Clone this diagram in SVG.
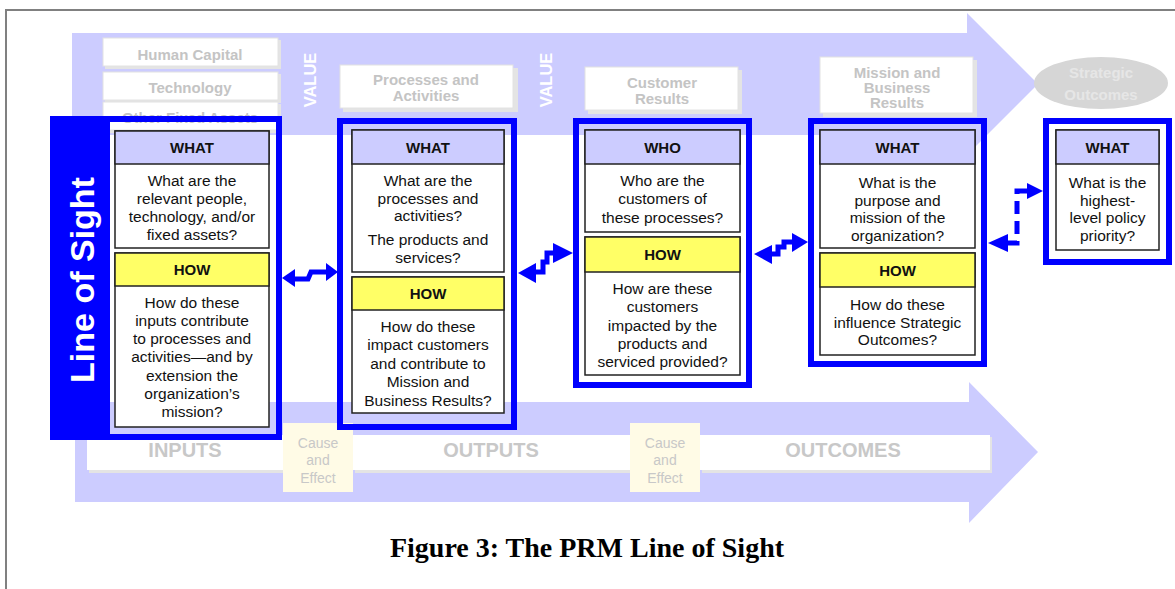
<svg xmlns="http://www.w3.org/2000/svg" width="1175" height="589" viewBox="0 0 1175 589">
<style>
.frame{fill:none;stroke:#0000ff;stroke-width:6}
.box{fill:#ffffff;stroke:#222222;stroke-width:1.5}
.hw{fill:#ccccff;stroke:#222222;stroke-width:1.5}
.hh{fill:#ffff66;stroke:#222222;stroke-width:1.5}
.t{font-family:"Liberation Sans",Arial,sans-serif;font-size:15.5px;text-anchor:middle;fill:#111111}
.hd{font-family:"Liberation Sans",Arial,sans-serif;font-size:15px;font-weight:bold;text-anchor:middle;fill:#111111}
.pale{font-family:"Liberation Sans",Arial,sans-serif;font-size:15px;font-weight:bold;text-anchor:middle;fill:#c4c4c4}
.big{font-family:"Liberation Sans",Arial,sans-serif;font-size:20px;font-weight:bold;text-anchor:middle;fill:#c8c8c8}
.ce{font-family:"Liberation Sans",Arial,sans-serif;font-size:14px;text-anchor:middle;fill:#c8c8c8}
.val{font-family:"Liberation Sans",Arial,sans-serif;font-size:16.5px;font-weight:bold;text-anchor:middle;fill:#ffffff}
.pb{fill:#ffffff;stroke:#e2e2e2;stroke-width:1}
.sh{fill:#e4e4e4}
.conn{fill:none;stroke:#0000ff;stroke-width:5}
.ah{fill:#0000ff}
</style>

<!-- page frame -->
<path d="M6,589 V10 H1175" fill="none" stroke="#808080" stroke-width="2"/>

<g id="background">
  <!-- top arrow -->
  <polygon points="72,33 967,33 967,13 1038,84 967,155 967,135 72,135" fill="#ccccff"/>
  <!-- bottom arrow -->
  <polygon points="75,402 969,402 969,382 1038,452 969,523 969,502 75,502" fill="#ccccff"/>

  <!-- top band pale boxes -->
  <rect class="sh" x="105" y="40" width="176" height="29"/>
  <rect class="pb" x="103" y="38" width="175" height="28"/>
  <text class="pale" x="190" y="60">Human Capital</text>
  <rect class="sh" x="105" y="74" width="176" height="29"/>
  <rect class="pb" x="103" y="72" width="175" height="28"/>
  <text class="pale" x="190" y="93">Technology</text>
  <rect class="sh" x="105" y="104" width="176" height="29"/>
  <rect class="pb" x="103" y="102" width="175" height="28"/>
  <text class="pale" x="190" y="123">Other Fixed Assets</text>
  <text class="val" transform="translate(316,80) rotate(-90)">VALUE</text>

  <rect class="sh" x="343" y="68" width="175" height="44"/>
  <rect class="pb" x="340" y="65" width="173" height="43"/>
  <text class="pale" x="426" y="85">Processes and</text>
  <text class="pale" x="426" y="101">Activities</text>
  <text class="val" transform="translate(552,80) rotate(-90)">VALUE</text>

  <rect class="sh" x="588" y="70" width="154" height="44"/>
  <rect class="pb" x="585" y="67" width="153" height="43"/>
  <text class="pale" x="662" y="88">Customer</text>
  <text class="pale" x="662" y="104">Results</text>

  <rect class="sh" x="823" y="60" width="154" height="57"/>
  <rect class="pb" x="820" y="57" width="153" height="56"/>
  <text class="pale" x="897" y="78">Mission and</text>
  <text class="pale" x="897" y="93">Business</text>
  <text class="pale" x="897" y="108">Results</text>

  <ellipse cx="1101" cy="83" rx="67" ry="26" fill="#d6d6d6"/>
  <text class="pale" x="1101" y="78" fill="#e8e8e8" style="fill:#e6e6e6">Strategic</text>
  <text class="pale" x="1101" y="100" style="fill:#e6e6e6">Outcomes</text>

  <!-- bottom band -->
  <rect class="sh" x="89" y="437" width="196" height="36"/>
  <rect fill="#ffffff" x="87" y="435" width="196" height="35"/>
  <text class="big" x="185" y="457">INPUTS</text>
  <rect class="sh" x="355" y="437" width="277" height="36"/>
  <rect fill="#ffffff" x="353" y="435" width="277" height="35"/>
  <text class="big" x="491" y="457">OUTPUTS</text>
  <rect class="sh" x="702" y="437" width="290" height="36"/>
  <rect fill="#ffffff" x="700" y="435" width="290" height="35"/>
  <text class="big" x="843" y="457">OUTCOMES</text>

  <rect fill="#fffbe6" x="283" y="423" width="70" height="69"/>
  <text class="ce" x="318" y="448">Cause</text>
  <text class="ce" x="318" y="465">and</text>
  <text class="ce" x="318" y="483">Effect</text>
  <rect fill="#fffbe6" x="630" y="423" width="70" height="69"/>
  <text class="ce" x="665" y="448">Cause</text>
  <text class="ce" x="665" y="465">and</text>
  <text class="ce" x="665" y="483">Effect</text>
</g>

<g id="line-of-sight">
  <rect x="50" y="116" width="58" height="324" fill="#0000ff"/>
  <text transform="translate(94,280) rotate(-90)" font-family="'Liberation Sans',Arial,sans-serif" font-size="34" font-weight="bold" fill="#ffffff" text-anchor="middle">Line of Sight</text>
</g>

<g id="node-inputs">
  <rect class="frame" x="107" y="119" width="172" height="318"/>
  <rect class="box" x="115" y="131" width="154" height="117"/>
  <rect class="hw" x="115" y="131" width="154" height="33"/>
  <text class="hd" x="192" y="153">WHAT</text>
  <text class="t" x="192" y="185.5">What are the</text>
  <text class="t" x="192" y="203.5">relevant people,</text>
  <text class="t" x="192" y="222">technology, and/or</text>
  <text class="t" x="192" y="240">fixed assets?</text>
  <rect class="box" x="115" y="253" width="154" height="174"/>
  <rect class="hh" x="115" y="253" width="154" height="33"/>
  <text class="hd" x="192" y="275">HOW</text>
  <text class="t" x="192" y="307.5">How do these</text>
  <text class="t" x="192" y="325.5">inputs contribute</text>
  <text class="t" x="192" y="343.5">to processes and</text>
  <text class="t" x="192" y="362">activities—and by</text>
  <text class="t" x="192" y="380.5">extension the</text>
  <text class="t" x="192" y="398.5">organization’s</text>
  <text class="t" x="192" y="416.5">mission?</text>
</g>

<g id="node-processes">
  <rect class="frame" x="340" y="121" width="174" height="306"/>
  <rect class="box" x="352" y="130" width="152" height="142"/>
  <rect class="hw" x="352" y="130" width="152" height="34"/>
  <text class="hd" x="428" y="153">WHAT</text>
  <text class="t" x="428" y="185.5">What are the</text>
  <text class="t" x="428" y="203.5">processes and</text>
  <text class="t" x="428" y="220.5">activities?</text>
  <text class="t" x="428" y="244.5">The products and</text>
  <text class="t" x="428" y="262.5">services?</text>
  <rect class="box" x="352" y="277" width="152" height="136"/>
  <rect class="hh" x="352" y="277" width="152" height="33"/>
  <text class="hd" x="428" y="299">HOW</text>
  <text class="t" x="428" y="331.5">How do these</text>
  <text class="t" x="428" y="349.5">impact customers</text>
  <text class="t" x="428" y="368.5">and contribute to</text>
  <text class="t" x="428" y="387">Mission and</text>
  <text class="t" x="428" y="405.5">Business Results?</text>
</g>

<g id="node-customers">
  <rect class="frame" x="576" y="121" width="173" height="264"/>
  <rect class="box" x="585" y="130" width="155" height="102"/>
  <rect class="hw" x="585" y="130" width="155" height="34"/>
  <text class="hd" x="662.5" y="153">WHO</text>
  <text class="t" x="662.5" y="185.5">Who are the</text>
  <text class="t" x="662.5" y="203.5">customers of</text>
  <text class="t" x="662.5" y="222.5">these processes?</text>
  <rect class="box" x="585" y="237" width="155" height="138"/>
  <rect class="hh" x="585" y="237" width="155" height="35"/>
  <text class="hd" x="662.5" y="260">HOW</text>
  <text class="t" x="662.5" y="293.5">How are these</text>
  <text class="t" x="662.5" y="311.5">customers</text>
  <text class="t" x="662.5" y="330.5">impacted by the</text>
  <text class="t" x="662.5" y="348.5">products and</text>
  <text class="t" x="662.5" y="366.5">serviced provided?</text>
</g>

<g id="node-mission">
  <rect class="frame" x="811" y="121" width="173" height="243"/>
  <rect class="box" x="820" y="130" width="155" height="118"/>
  <rect class="hw" x="820" y="130" width="155" height="34"/>
  <text class="hd" x="897.5" y="153">WHAT</text>
  <text class="t" x="897.5" y="187.5">What is the</text>
  <text class="t" x="897.5" y="205.5">purpose and</text>
  <text class="t" x="897.5" y="222.5">mission of the</text>
  <text class="t" x="897.5" y="240.5">organization?</text>
  <rect class="box" x="820" y="253" width="155" height="102"/>
  <rect class="hh" x="820" y="253" width="155" height="34"/>
  <text class="hd" x="897.5" y="276">HOW</text>
  <text class="t" x="897.5" y="309.5">How do these</text>
  <text class="t" x="897.5" y="327.5">influence Strategic</text>
  <text class="t" x="897.5" y="344.5">Outcomes?</text>
</g>

<g id="node-strategic">
  <rect class="frame" x="1046" y="121" width="123" height="141"/>
  <rect class="box" x="1056" y="130" width="103" height="120"/>
  <rect class="hw" x="1056" y="130" width="103" height="34"/>
  <text class="hd" x="1107.5" y="153">WHAT</text>
  <text class="t" x="1107.5" y="187.5">What is the</text>
  <text class="t" x="1107.5" y="205.5">highest-</text>
  <text class="t" x="1107.5" y="222.5">level policy</text>
  <text class="t" x="1107.5" y="240.5">priority?</text>
</g>

<g id="connectors">
  <!-- 1: inputs <-> processes -->
  <polyline class="conn" points="292,279 308,279 311,272 329,272"/>
  <polygon class="ah" points="282,278 295,269 295,287"/>
  <polygon class="ah" points="338,272 326,263 326,281"/>
  <!-- 2: processes <-> customers -->
  <polyline class="conn" points="534,272 543,272 543,262 547,262 547,253 555,253"/>
  <polygon class="ah" points="518,273 536,263 536,283"/>
  <polygon class="ah" points="573,253 553,243 553,263"/>
  <!-- 3: customers <-> mission -->
  <polyline class="conn" points="770,254 778,254 778,247 784,247 784,242 794,242"/>
  <polygon class="ah" points="754,254 772,245 772,264"/>
  <polygon class="ah" points="808,242 792,233 792,252"/>
  <!-- 4: mission <-> strategic (dashed) -->
  <path class="conn" d="M1006,243 H1017 V191 H1029" stroke-dasharray="13 7"/>
  <polygon class="ah" points="988,243 1008,234 1008,252"/>
  <polygon class="ah" points="1043,191 1027,183 1027,199"/>
</g>

<text x="587" y="557" font-family="'Liberation Serif','Times New Roman',serif" font-size="28" font-weight="bold" text-anchor="middle" fill="#000000">Figure 3: The PRM Line of Sight</text>
</svg>
